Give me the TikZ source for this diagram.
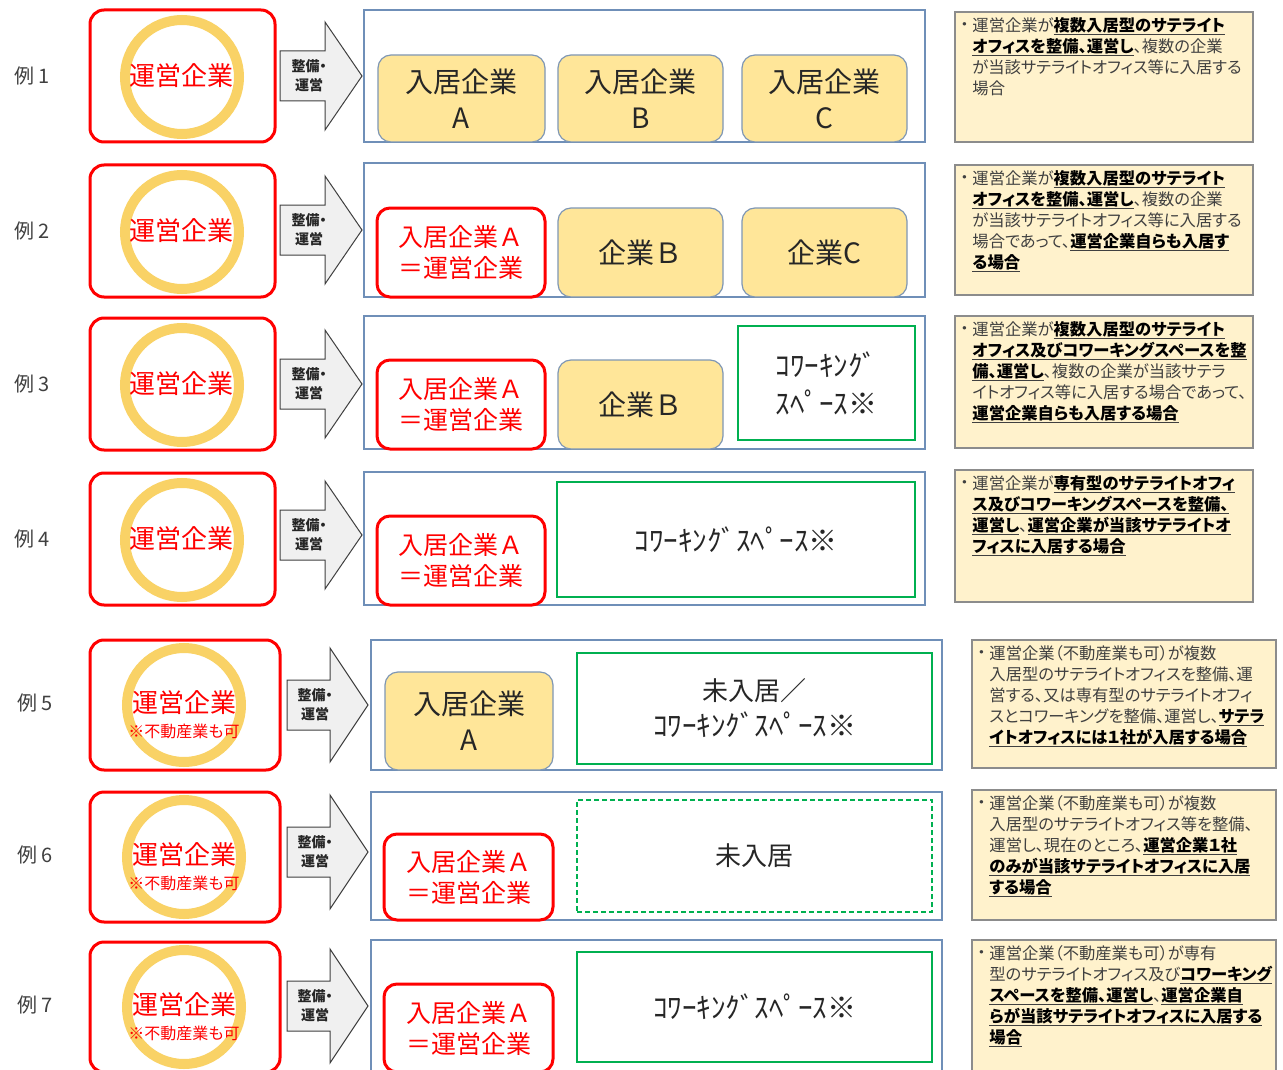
\documentclass[tikz,border=0pt]{standalone}
\usepackage{fontspec}
\setmainfont{Noto Sans CJK JP}
\newfontfamily\notefont{Noto Sans CJK JP}[RawFeature=+palt]
\newcommand\fsz[2]{\fontsize{#1}{#2}\selectfont}
\newcommand\ulb[1]{\underline{\textbf{\color{black}#1}}}
\definecolor{opred}{HTML}{FF0000}
\definecolor{ringyel}{HTML}{F9D266}
\definecolor{boxyel}{HTML}{FFE699}
\definecolor{boxedge}{HTML}{7F97B5}
\definecolor{contedge}{HTML}{6F8FB8}
\definecolor{greenedge}{HTML}{00B050}
\definecolor{notefill}{HTML}{FFF2CC}
\definecolor{noteedge}{HTML}{8C8C8C}
\definecolor{arrfill}{HTML}{F0F0F0}
\definecolor{arredge}{HTML}{404040}
\definecolor{txt}{HTML}{262626}
\definecolor{notetxt}{HTML}{404040}
\tikzset{
  lbl/.style={text=notetxt, font=\fsz{20}{24}, inner sep=0pt},
  opbox/.style={draw=opred, line width=3pt, rounded corners=14pt, fill=white},
  ring/.style={circle, draw=ringyel, line width=10pt, minimum size=114pt, inner sep=0pt},
  optext/.style={text=opred, font=\fsz{26}{30}, inner sep=0pt},
  opsub/.style={text=opred, font=\notefont\fsz{16}{18}, inner sep=0pt},
  blockarrow/.style={draw=arredge, fill=arrfill, line width=1pt, line join=miter},
  arrtext/.style={text=txt, font=\notefont\bfseries\fsz{14}{19}, align=center, inner sep=0pt},
  cont/.style={draw=contedge, line width=1.3pt, fill=white, inner sep=0pt},
  ybox/.style={draw=boxedge, fill=boxyel, line width=1.2pt, rounded corners=13pt, text=txt, font=\fsz{28}{36}, align=center, inner sep=0pt},
  rbox/.style={draw=opred, fill=white, line width=3pt, rounded corners=13pt, text=opred, font=\fsz{25}{31}, align=center, inner sep=0pt},
  gbox/.style={draw=greenedge, fill=white, line width=1.5pt, text=txt, font=\fsz{26}{36}, align=center, inner sep=0pt},
  kana/.style={font=\fsz{29}{38}},
  notebox/.style={draw=noteedge, fill=notefill, line width=1.5pt, inner sep=0pt},
  notebullet/.style={anchor=north west, inner sep=0pt, text=notetxt, font=\notefont\fsz{16.3}{21}},
  notetext/.style={anchor=north west, inner sep=0pt, text=notetxt, align=left, font=\notefont\fsz{16.3}{21}},
}
\newcommand\bul{\vphantom{運}\hbox to 12pt{\hss・\hss}}
\begin{document}
\begin{tikzpicture}[x=1pt,y=-1pt]
\useasboundingbox (0,0) rectangle (1283,1070);
\clip (0,0) rectangle (1283,1070);
\fill[white] (0,0) rectangle (1283,1070);

% ---------- rows 1-4: operator, arrow ----------
\foreach \n/\cy/\ay in {1/76/76, 2/231/230, 3/384/384, 4/539/535} {
  \node[lbl] (ex\n) at (32,\cy) {例 \n};
  \node[opbox, minimum width=185pt, minimum height=132pt] (op\n) at (182.5,\cy) {};
  \node[ring] (ring\n) at (182,\cy+1) {};
  \node[optext] (opt\n) at (181,\cy) {運営企業};
  \draw[blockarrow] (280,\ay-25) -- (325,\ay-25) -- (325,\ay-54) -- (362,\ay) -- (325,\ay+54) -- (325,\ay+25) -- (280,\ay+25) -- cycle;
  \node[arrtext] (arr\n) at (309,\ay) {整備・\\運営};
}
% ---------- rows 5-7 ----------
\foreach \n/\cy/\ay in {5/705/705, 6/857/852, 7/1007/1006} {
  \node[lbl] (ex\n) at (35,\cy-2) {例 \n};
  \node[opbox, minimum width=190pt, minimum height=130pt] (op\n) at (185,\cy) {};
  \node[ring] (ring\n) at (184,\cy) {};
  \node[optext] (opt\n) at (184,\cy-2) {運営企業};
  \node[opsub] (ops\n) at (184,\cy+26) {※不動産業も可};
  \draw[blockarrow] (287,\ay-25) -- (330,\ay-25) -- (330,\ay-57) -- (368,\ay) -- (330,\ay+57) -- (330,\ay+25) -- (287,\ay+25) -- cycle;
  \node[arrtext] (arr\n) at (315,\ay) {整備・\\運営};
}

% ---------- containers ----------
\node[cont, minimum width=561pt, minimum height=132pt] (c1) at (644.5,76) {};
\node[cont, minimum width=561pt, minimum height=134pt] (c2) at (644.5,230) {};
\node[cont, minimum width=561pt, minimum height=133pt] (c3) at (644.5,382.5) {};
\node[cont, minimum width=561pt, minimum height=133pt] (c4) at (644.5,538.5) {};
\node[cont, minimum width=571pt, minimum height=130pt] (c5) at (656.5,705) {};
\node[cont, minimum width=571pt, minimum height=128pt] (c6) at (656.5,856) {};
\node[cont, minimum width=571pt, minimum height=132pt] (c7) at (656.5,1006) {};

% row 1
\node[ybox, minimum width=167pt, minimum height=87pt] (a1) at (461.5,98.5) {入居企業\\A};
\node[ybox, minimum width=165pt, minimum height=87pt] (b1) at (640.5,98.5) {入居企業\\B};
\node[ybox, minimum width=165pt, minimum height=87pt] (cc1) at (824.5,98.5) {入居企業\\C};
% row 2
\node[rbox, minimum width=168pt, minimum height=89pt] (a2) at (461,252.5) {入居企業Ａ\\＝運営企業};
\node[ybox, minimum width=165pt, minimum height=89pt] (b2) at (640.5,252.5) {企業Ｂ};
\node[ybox, minimum width=165pt, minimum height=89pt] (cc2) at (824.5,252.5) {企業C};
% row 3
\node[rbox, minimum width=168pt, minimum height=89pt] (a3) at (461,404.5) {入居企業Ａ\\＝運営企業};
\node[ybox, minimum width=165pt, minimum height=89pt] (b3) at (640.5,404.5) {企業Ｂ};
\node[gbox, kana, minimum width=177pt, minimum height=114pt] (g3) at (826.5,383) {ｺﾜｰｷﾝｸﾞ\\ｽﾍﾟｰｽ※};
% row 4
\node[rbox, minimum width=168pt, minimum height=89pt] (a4) at (461,560.5) {入居企業Ａ\\＝運営企業};
\node[gbox, kana, minimum width=358pt, minimum height=115pt] (g4) at (736,539.5) {ｺﾜｰｷﾝｸﾞｽﾍﾟｰｽ※};
% row 5
\node[ybox, minimum width=168pt, minimum height=98pt] (a5) at (469,721) {入居企業\\A};
\node[gbox, minimum width=355pt, minimum height=111pt] (g5) at (754.5,708.5) {未入居／\\{\fsz{29}{36}ｺﾜｰｷﾝｸﾞｽﾍﾟｰｽ※}};
% row 6
\node[rbox, minimum width=169pt, minimum height=86pt] (a6) at (468.5,877) {入居企業Ａ\\＝運営企業};
\node[gbox, dashed, dash pattern=on 5pt off 3pt, minimum width=355pt, minimum height=112pt] (g6) at (754.5,856) {未入居};
% row 7
\node[rbox, minimum width=169pt, minimum height=88pt] (a7) at (468.5,1028) {入居企業Ａ\\＝運営企業};
\node[gbox, kana, minimum width=355pt, minimum height=110pt] (g7) at (754.5,1007) {ｺﾜｰｷﾝｸﾞｽﾍﾟｰｽ※};

% ---------- notes ----------
\node[notebox, minimum width=298pt, minimum height=130pt] (n1) at (1104,77) {};
\node[notebullet] (nb1) at ([xshift=4pt,yshift=-6pt]n1.north west) {\bul};
\node[notetext] (nt1) at ([xshift=18pt,yshift=-6pt]n1.north west) {運営企業が\ulb{複数入居型のサテライト}\\\ulb{オフィスを整備、運営し}、複数の企業\\が当該サテライトオフィス等に入居する\\場合};

\node[notebox, minimum width=298pt, minimum height=130pt] (n2) at (1104,230) {};
\node[notebullet] (nb2) at ([xshift=4pt,yshift=-6pt]n2.north west) {\bul};
\node[notetext] (nt2) at ([xshift=18pt,yshift=-6pt]n2.north west) {運営企業が\ulb{複数入居型のサテライト}\\\ulb{オフィスを整備、運営し}、複数の企業\\が当該サテライトオフィス等に入居する\\場合であって、\ulb{運営企業自らも入居す}\\\ulb{る場合}};

\node[notebox, minimum width=298pt, minimum height=132pt] (n3) at (1104,382) {};
\node[notebullet] (nb3) at ([xshift=4pt,yshift=-6pt]n3.north west) {\bul};
\node[notetext] (nt3) at ([xshift=18pt,yshift=-6pt]n3.north west) {運営企業が\ulb{複数入居型のサテライト}\\\ulb{オフィス及びコワーキングスペースを整}\\\ulb{備、運営し}、複数の企業が当該サテラ\\イトオフィス等に入居する場合であって、\\\ulb{運営企業自らも入居する場合}};

\node[notebox, minimum width=298pt, minimum height=132pt] (n4) at (1104,536) {};
\node[notebullet] (nb4) at ([xshift=4pt,yshift=-6pt]n4.north west) {\bul};
\node[notetext] (nt4) at ([xshift=18pt,yshift=-6pt]n4.north west) {運営企業が\ulb{専有型のサテライトオフィ}\\\ulb{ス及びコワーキングスペースを整備、}\\\ulb{運営し}、\ulb{運営企業が当該サテライトオ}\\\ulb{フィスに入居する場合}};

\node[notebox, minimum width=304pt, minimum height=128pt] (n5) at (1124,704) {};
\node[notebullet] (nb5) at ([xshift=4pt,yshift=-6pt]n5.north west) {\bul};
\node[notetext] (nt5) at ([xshift=18pt,yshift=-6pt]n5.north west) {運営企業（不動産業も可）が複数\\入居型のサテライトオフィスを整備、運\\営する、又は専有型のサテライトオフィ\\スとコワーキングを整備、運営し、\ulb{サテラ}\\\ulb{イトオフィスには１社が入居する場合}};

\node[notebox, minimum width=304pt, minimum height=130pt] (n6) at (1124,855) {};
\node[notebullet] (nb6) at ([xshift=4pt,yshift=-6pt]n6.north west) {\bul};
\node[notetext] (nt6) at ([xshift=18pt,yshift=-6pt]n6.north west) {運営企業（不動産業も可）が複数\\入居型のサテライトオフィス等を整備、\\運営し、現在のところ、\ulb{運営企業１社}\\\ulb{のみが当該サテライトオフィスに入居}\\\ulb{する場合}};

\node[notebox, minimum width=304pt, minimum height=134pt] (n7) at (1124,1007) {};
\node[notebullet] (nb7) at ([xshift=4pt,yshift=-6pt]n7.north west) {\bul};
\node[notetext] (nt7) at ([xshift=18pt,yshift=-6pt]n7.north west) {運営企業（不動産業も可）が専有\\型のサテライトオフィス及び\ulb{コワーキング}\\\ulb{スペースを整備、運営し}、\ulb{運営企業自}\\\ulb{らが当該サテライトオフィスに入居する}\\\ulb{場合}};
\end{tikzpicture}
\end{document}
